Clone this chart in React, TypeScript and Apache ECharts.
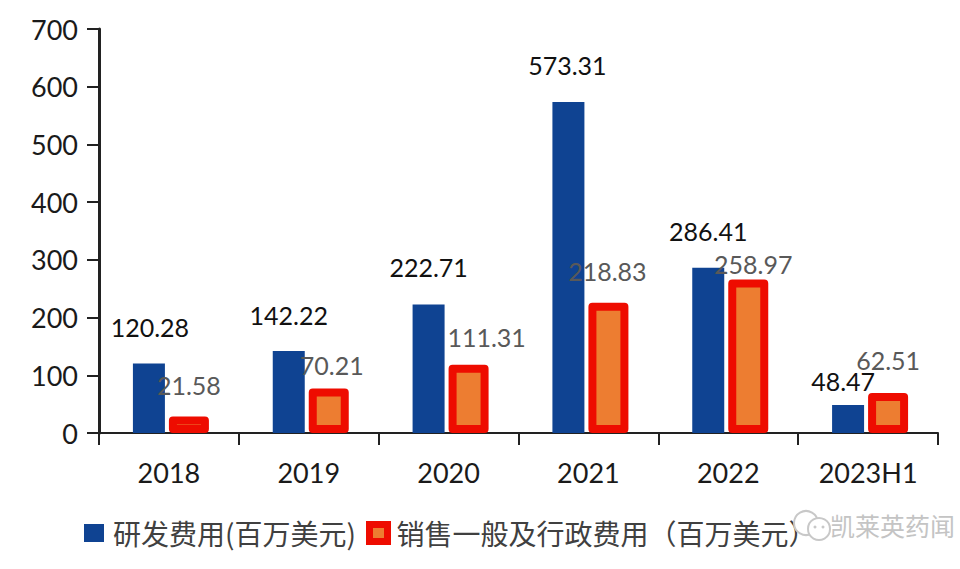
import React, { useEffect, useRef } from "react";
import * as echarts from "echarts";

const categories = ["2018", "2019", "2020", "2021", "2022", "2023H1"];
const rdValues = [120.28, 142.22, 222.71, 573.31, 286.41, 48.47];
const sgaValues = [21.58, 70.21, 111.31, 218.83, 258.97, 62.51];
const rdName = "研发费用(百万美元)";
const sgaName = "销售一般及行政费用（百万美元）";
const watermarkText = "凯莱英药闻";

const rdLabelOffsets = [[1, -24], [0, -23], [0, -25], [-1, -25], [0, -24], [-5, -12]];
const sgaLabelOffsets = [[0, -19], [3, -11], [18, -15], [-1, -19], [5, -3], [0, -20]];

const FONT = "Lato, 'Noto Sans', sans-serif";
const CJK = "'Noto Sans CJK SC', sans-serif";
const RED = "#EE0C00";
const ORANGE = "#ED7D31";
const BLUE = "#0F4392";
const BAR_W = 32;
const BAR_GAP = 8;
const BORDER = 8;

export default function App() {
  const ref = useRef<HTMLDivElement>(null);
  useEffect(() => {
    document.body.style.margin = "0";
    const chart = echarts.init(ref.current!, undefined, { renderer: "svg" });
    chart.setOption({
      animation: false,
      backgroundColor: "#ffffff",
      grid: { left: 99, right: 22, top: 29, height: 404 },
      xAxis: {
        type: "category",
        data: categories,
        axisLine: { lineStyle: { color: "#222222", width: 2 } },
        axisTick: { show: true, length: 12, alignWithLabel: false, lineStyle: { color: "#222222", width: 2 } },
        axisLabel: { color: "#1a1a1a", fontFamily: FONT, fontSize: 27, margin: 26, interval: 0 },
      },
      yAxis: {
        type: "value",
        min: 0,
        max: 700,
        interval: 100,
        splitLine: { show: false },
        axisLine: { show: true, lineStyle: { color: "#222222", width: 3 } },
        axisTick: { show: true, length: 12, lineStyle: { color: "#222222", width: 2 } },
        axisLabel: { color: "#1a1a1a", fontFamily: FONT, fontSize: 27, margin: 21 },
      },
      legend: [
        {
          left: 84,
          top: 519,
          padding: 0,
          itemWidth: 20,
          itemHeight: 18,
          selectedMode: false,
          icon: "rect",
          textStyle: { color: "#404040", fontFamily: CJK, fontSize: 28, padding: [0, 0, 4, 4] },
          data: [rdName],
        },
        {
          left: 366,
          top: 519,
          padding: 0,
          itemWidth: 18,
          itemHeight: 17,
          selectedMode: false,
          icon: "rect",
          itemStyle: { color: ORANGE, borderColor: RED, borderWidth: 7 },
          textStyle: { color: "#404040", fontFamily: CJK, fontSize: 28, padding: [0, 0, 4, 4] },
          data: [sgaName],
        },
      ],
      series: [
        {
          name: rdName,
          type: "bar",
          barWidth: BAR_W,
          barGap: "25%",
          itemStyle: { color: BLUE },
          data: rdValues.map((value, i) => ({
            value,
            label: {
              show: true,
              position: "top",
              distance: 0,
              offset: rdLabelOffsets[i],
              color: "#111111",
              fontFamily: FONT,
              fontSize: 25,
            },
          })),
        },
        {
          name: sgaName,
          type: "bar",
          barWidth: BAR_W,
          itemStyle: { color: ORANGE },
          data: sgaValues,
        },
        {
          // red outline centred on the bar edge (a bar series would inset its border); carries the value label above it
          type: "custom",
          silent: true,
          z: 3,
          data: sgaValues.map((v, i) => [i, v]),
          encode: { x: 0, y: 1 },
          renderItem: (params: any, api: any) => {
            const value = api.value(1);
            const top = api.coord([api.value(0), value]);
            const base = api.coord([api.value(0), 0]);
            const cx = top[0] + BAR_W / 2 + BAR_GAP / 2;
            const bottom = base[1] - BORDER / 2;
            return {
              type: "rect",
              shape: { x: cx - BAR_W / 2, y: top[1], width: BAR_W, height: Math.max(bottom - top[1], 0) },
              style: { fill: "none", stroke: RED, lineWidth: BORDER, lineJoin: "round" },
              textContent: {
                type: "text",
                style: { text: String(value), fill: "#595959", fontFamily: FONT, fontSize: 25 },
              },
              textConfig: { position: "top", distance: 0, offset: sgaLabelOffsets[params.dataIndex], inside: false, outsideFill: "#595959" },
            };
          },
        },
      ],
      graphic: [
        { type: "circle", shape: { cx: 806, cy: 523, r: 12 }, style: { fill: "#ffffff", stroke: "#c8c8c8", lineWidth: 2 }, z: 10 },
        { type: "circle", shape: { cx: 819, cy: 529, r: 11 }, style: { fill: "#ffffff", stroke: "#c8c8c8", lineWidth: 2 }, z: 11 },
        { type: "circle", shape: { cx: 815, cy: 527, r: 1.5 }, style: { fill: "#c8c8c8" }, z: 12 },
        { type: "circle", shape: { cx: 823, cy: 527, r: 1.5 }, style: { fill: "#c8c8c8" }, z: 12 },
        {
          type: "text",
          x: 830,
          y: 525,
          z: 12,
          style: {
            text: watermarkText,
            fill: "#c4c4c4",
            font: "25px 'Noto Sans CJK SC', sans-serif",
            verticalAlign: "middle",
          },
        },
      ],
    });
    return () => chart.dispose();
  }, []);
  return <div ref={ref} style={{ width: 960, height: 569 }} />;
}
